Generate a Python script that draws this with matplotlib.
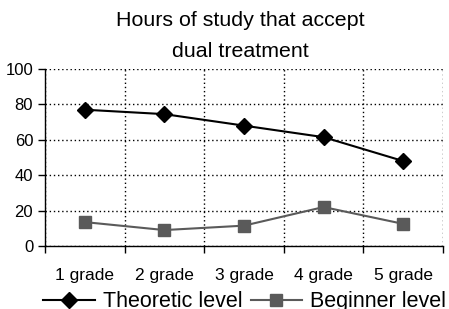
import numpy as np
import matplotlib
matplotlib.use("Agg")
import matplotlib.pyplot as plt

plt.rcParams['font.family'] = ['Liberation Sans', 'DejaVu Sans']

grades = ['1 grade', '2 grade', '3 grade', '4 grade', '5 grade']
theoretic = [77, 74.5, 68, 61.5, 48]
beginner = [13.5, 9, 11.5, 22, 12.5]

fig = plt.figure(figsize=(4.49, 3.09), dpi=100)
ax = fig.add_axes([0.1002, 0.2039, 0.8864, 0.5728])

x = np.arange(len(grades)) + 0.5
ax.plot(x, theoretic, color='black', lw=1.5, marker='D', ms=8,
        label='Theoretic level', zorder=3)
ax.plot(x, beginner, color='#5a5a5a', lw=1.5, marker='s', ms=9,
        label='Beginner level', zorder=3)

ax.set_xlim(0, len(grades))
ax.set_ylim(0, 100)
ax.set_yticks(range(0, 101, 20))
ax.set_xticks(range(0, len(grades) + 1))
ax.set_xticks(x, minor=True)
ax.set_xticklabels(grades, minor=True)
ax.tick_params(axis='x', which='minor', length=0, pad=16, labelsize=12.5)
ax.tick_params(axis='x', which='major', direction='out', length=5, width=1,
               labelbottom=False)
ax.tick_params(axis='y', direction='out', length=5, width=1, labelsize=12)

ax.grid(True, which='major', color='black', linestyle=(0, (1, 2)), lw=1)
ax.spines['top'].set_visible(False)
ax.spines['right'].set_visible(False)
ax.spines['left'].set_linewidth(1)
ax.spines['bottom'].set_linewidth(1)

fig.text(0.535, 0.966, 'Hours of study that accept\ndual treatment',
         ha='center', va='top', fontsize=15.4, linespacing=1.8)

fig.legend(loc='center', bbox_to_anchor=(0.545, 0.023), ncol=2,
           frameon=False, fontsize=15.5, handlelength=2.4,
           handletextpad=0.37, columnspacing=0.37)

fig.savefig('out.png', dpi=100)
